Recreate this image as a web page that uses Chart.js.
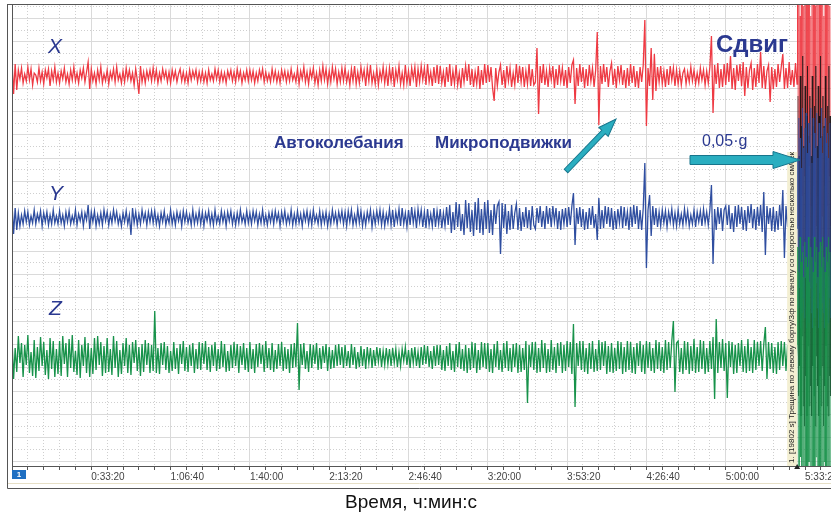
<!DOCTYPE html>
<html>
<head>
<meta charset="utf-8">
<script src="https://cdn.jsdelivr.net/npm/chart.js@4.4.0/dist/chart.umd.min.js"></script>
<style>
  html, body { margin: 0; padding: 0; background: #fff; }
</style>
</head>
<body>
<canvas id="chart" width="831" height="518"></canvas>
<script>
// Каналы акселерометра, отсчёты каждые 40 с (отклонения от нулевой линии канала)
const canalX = [
    15, -18, 12, -14, 6, -3, 8, -7, 2, -5, 9, -4, 7, -9, 3, 1, -6, 8, -5, 4, -8, 6, -2, 7, -10, 5, -4, 9, -6, 3,
    -7, 5, -3, 8, -6, 2, -8, 6, -4, 9, -5, 3, -7, 6, -2, 8, -6, 4, 14, -13, 7, -5, 3, -8, 6, -4, 9, -7, 2, -5,
    6, -8, 4, -3, 7, -6, 9, -4, 2, -7, 5, -6, 8, -3, 6, -5, 3, -9, 7, -4, -18, 10, -6, 4, -7, 5, -3, 6, -5, 8,
    -4, 6, -7, 3, -5, 7, -2, 5, -6, 4, -7, 6, -3, 5, -6, 2, 7, -5, 4, -6, 3, -7, 6, -4, 5, -2, 6, -6, 4, -5,
    5, -6, 3, -7, 6, -4, 2, -5, 7, -3, 6, -6, 4, -5, 3, -7, 5, -2, 6, -5, 4, -6, 7, -3, 5, -7, 3, -4, 6, -5,
    6, -4, 5, -7, 3, -5, 6, -2, 7, -6, 4, -5, 2, -6, 7, -4, 5, -6, 3, -7, 6, -3, 5, -6, 4, -5, 7, -4, 2, -6,
    7, -8, 5, -3, 9, -6, 4, -8, 6, -2, 8, -7, 3, -9, 6, -5, 10, -4, 7, -8, 5, -6, 9, -3, 7, -8, 4, -6, 8, -5,
    8, -6, 3, -9, 7, -5, 10, -8, 4, -7, 9, -3, 6, -10, 8, -5, 11, -7, 3, -8, 7, -9, 5, -4, 9, -7, 6, -10, 8, -5,
    9, -11, 6, -4, 10, -8, 3, -9, 11, -7, 5, -10, 8, -3, 9, -11, 7, -6, 10, -4, 8, -9, 12, -6, 4, -10, 9, -7, 11, -8,
    10, -7, 4, -11, 9, -6, 12, -10, 5, -8, 11, -9, 3, -12, 8, -6, 10, -5, 12, -9, 7, -11, 4, -8, 10, -13, 6, -9, 12, -7,
    11, -6, 9, -12, -25, 8, -10, 4, 11, -9, 6, -12, 10, -5, 8, -11, 3, -9, 12, -7, 10, -6, 9, -11, 5, -8, 12, -10, 7, -9,
    -6, 28, -38, 10, -7, 12, -9, 5, -11, 8, -4, 10, -12, 7, -9, 11, -5, 8, -10, 6, -12, 9, -7, 11, 16, -28, 8, -10, 12, -6,
    9, -12, 7, -10, 11, -5, 8, -11, 6, 44, -49, 10, -8, 12, -6, 9, -11, 5, 13, -9, 7, -12, 10, -4, 11, -9, 6, -12, 8, -10,
    12, -7, 10, -11, 5, -12, 9, -6, 11, 56, -50, 8, -10, 28, -24, 22, -15, 9, -6, 10, -8, 5, -11, 7, -9, 10, -4, 8, -10, 6,
    -8, 5, -9, 3, 7, -8, 4, -6, 9, -5, 6, -8, 3, -7, 8, -4, 6, -9, 5, -7, 9, 40, -37, 11, -8, 13, -12, 7, -11, 12,
    -9, 13, -6, 20, -13, 8, -14, 11, -5, 12, -10, 14, -20, 9, -12, 6, 13, -14, 8, -11, 12, -7, 24, -12, 10, -13, 5, 11, -26, 9,
    -13, 7, -11, 12, -6, 9, 22, -13, 8, -12, 14, -9, 6, -11, 13, -8
];
const canalY = [
    15, -16, 10, -12, 5, -8, 3, -6, 7, -4, 6, -7, 2, -5, 8, -6, 4, -3, 7, -8, 5, -4, 6, -7, 3, -6, 8, -5, 2, -6,
    7, -5, 3, -8, 6, -4, 7, -6, 2, -5, 8, -7, 4, -3, 6, -8, 5, -2, 13, -11, 6, -4, 7, -8, 3, -6, 5, -7, 8, -3,
    6, -7, 4, -5, 8, -3, 6, -6, 2, -8, 5, -4, 7, -6, 3, -17, 10, -5, 6, -7, 4, -6, 8, -3, 5, -7, 6, -4, 7, -5,
    7, -6, 3, -8, 5, -4, 7, -7, 2, -5, 8, -6, 4, -7, 6, -3, 5, -8, 7, -4, 6, -5, 3, -7, 8, -6, 4, -5, 7, -6,
    6, -8, 5, -3, 7, -6, 4, -7, 8, -5, 2, -6, 7, -4, 5, -8, 6, -3, 7, -6, 4, -7, 5, -5, 8, -4, 3, -6, 7, -5,
    5, -6, 7, -3, 6, -7, 4, -5, 8, -6, 3, -7, 5, -4, 6, -6, 7, -3, 5, -8, 6, -4, 7, -6, 3, -5, 8, -7, 4, -6,
    7, -5, 4, -8, 6, -3, 7, -6, 5, -7, 8, -4, 3, -6, 7, -7, 5, -5, 6, -8, 4, -6, 8, -4, 5, -7, 6, -3, 7, -6,
    6, -8, 7, -4, 8, -7, 3, -6, 9, -5, 7, -8, 4, -7, 6, -3, 8, -9, 5, -6, 7, -4, 8, -7, 6, -8, 4, -5, 9, -7,
    8, -9, 6, -4, 9, -8, 10, -6, 5, -9, 8, -7, 11, -5, 7, -10, 9, -4, 8, -9, 6, -10, 9, -7, 4, -8, 10, -9, 7, -6,
    9, -10, 5, -8, 11, -7, 13, -15, 6, -12, 16, -9, 14, -13, 4, -17, 18, -10, 15, -14, 8, -18, 16, -12, 20, -15, 9, -17, 16, -11,
    18, -15, 8, -17, 14, -6, 12, 16, -36, 15, -10, 14, -16, 7, -12, 13, -11, 5, 14, -12, 10, -13, 6, -9, 11, -10, 8, -12, 12, -7,
    -11, 10, -5, 12, -9, 7, -11, 12, -6, 10, -9, 12, -4, 10, -11, 7, -12, 9, -6, 10, -9, 11, -7, 12, 25, -27, 10, -6, 11, -9,
    9, -12, 6, -11, 10, -7, 12, -10, 4, -22, 20, -11, 8, -10, 12, -6, 11, -9, 10, -12, 7, -11, 9, -5, 12, -10, 11, -8, 6, -12,
    11, -9, 13, -6, 12, -11, 8, -12, 10, 55, -50, 8, 23, -18, 12, -7, 10, -9, 6, -8, 8, -5, 7, -9, 6, -4, 9, -7, 5, -8,
    8, -6, 4, -7, 9, -5, 7, -8, 3, -6, 8, -9, 6, -4, 7, -8, 9, -5, 6, -7, 8, 33, -46, 9, -12, 11, -6, 10, -13, 8,
    12, -7, 13, -11, 5, -14, 12, -9, 13, -6, 11, -12, 8, -13, 12, -5, 14, -10, 9, -12, 11, -8, 13, -14, 26, -37, 12, -6, 10, -13,
    11, -14, 7, -12, 13, -8, 28, -40, 12, -9, 13, -12, 6, -11, 14, -10
];
const canalZ = [
    18, -22, 9, -15, 21, -6, 14, -20, 12, -8, 22, -16, 5, -19, 17, -21, 10, -14, 20, -9, 15, -18, 7, -22, 19, -12, 16, -20, 8, -17,
    16, -19, 21, -7, 14, -20, 18, -11, 22, -15, 6, -18, 17, -21, 12, -9, 20, -16, 14, -20, 9, -17, 19, -13, 21, -8, 15, -19, 11, -16,
    19, -15, 8, -18, 21, -11, 16, -20, 7, -17, 14, -9, 19, -16, 12, -18, 15, -6, 17, -14, 10, -19, 13, -15, 17, -8, 14, -16, 12, -14,
    46, -16, 9, -17, 14, -8, 15, -13, 11, -16, 6, -14, 15, -12, 9, -17, 13, -7, 16, -14, 10, -15, 12, -9, 14, -16, 8, -12, 15, -13,
    14, -7, 16, -13, 10, -15, 12, -9, 15, -14, 8, -12, 16, -10, 13, -15, 6, -14, 12, -11, 15, -9, 13, -16, 11, -8, 14, -13, 9, -15,
    15, -12, 8, -16, 13, -10, 14, -7, 12, -15, 16, -11, 9, -13, 14, -15, 7, -12, 13, -9, 15, -14, 10, -12, 8, -16, 13, -11, 14, -10,
    34, -33, 13, -8, 14, -12, 6, -15, 13, -11, 12, -7, 14, -13, 9, -12, 11, -6, 13, -14, 10, -12, 7, -11, 12, -9, 13, -8, 10, -11,
    12, -9, 6, -11, 13, -8, 10, -12, 5, -10, 11, -9, 8, -12, 10, -6, 9, -11, 7, -9, 10, -5, 9, -10, 6, -8, 9, -7, 8, -9,
    9, -6, 8, -10, 5, -9, 8, -4, 10, -8, 7, -11, 9, -6, 10, -9, 5, -11, 10, -8, 12, -7, 11, -10, 6, -12, 11, -9, 12, -8,
    12, -13, 7, -14, 11, -9, 14, -13, 6, -15, 13, -10, 15, -12, 8, -14, 12, -16, 9, -13, 15, -11, 14, -16, 7, -13, 15, -10, 14, -12,
    14, -15, 8, -16, 13, -10, 16, -13, 7, -15, 14, -11, 16, -14, 9, -15, 13, -10, 14, -16, 12, -15, 9, -13, 16, -46, 12, -10, 15, -13,
    15, -16, 9, -15, 17, -11, 14, -16, 8, -15, 17, -13, 10, -16, 14, -9, 15, -16, 12, -14, 16, -10, 15, -17, 33, -50, 14, -9, 16, -13,
    16, -15, 9, -17, 14, -12, 16, -15, 8, -14, 17, -13, 15, -9, 16, -17, 11, -15, 14, -16, 9, -14, 16, -12, 15, -17, 10, -15, 16, -13,
    15, -16, 10, -17, 14, -9, 16, -15, 12, -17, 16, -11, 15, -14, 9, -16, 17, -12, 15, -14, 10, -16, 17, -13, 15, -11, 16, 36, -35, 14,
    16, -15, 9, -17, 16, -13, 15, -17, 11, -14, 18, -16, 10, -15, 17, -12, 16, -17, 9, -15, 16, -12, 20, -42, 38, -16, 15, -11, 18, -14,
    14, -41, 16, -10, 15, -17, 12, -16, 14, -9, 17, -15, 11, -16, 18, -14, 10, -16, 17, -13, 15, -9, 16, -14, 13, 30, -22, 15, -12, 14,
    -16, 10, -17, 15, -13, 16, -9, 15, -14, 12, -16, 15, -11, 14, -15, 13
];

// Сдвиг (после 19802 с), отсчёты каждые 15 с
const sdvigX = [90, -150, 150, -90, 60, -200, 130, -120, 100, -170, 70, -100, 140, -230, 110, -140, 80, -180, 120, -90,
    95, -210, 60, -130, 130, -160, 100, -110, 150, -250, 70, -150, 120, -120, 90, -190, 110, -100, 140, -170,
    80, -140, 100, -220, 60, -110, 130, -160, 110, -130, 90, -200, 120, -100, 70, -150];
const sdvigY = [60, -90, 100, -70, 80, -110, 50, -95, 110, -80, 70, -100, 90, -60, 105, -110, 65, -85, 95, -105,
    75, -70, 110, -95, 55, -110, 100, -80, 85, -100, 70, -65, 105, -90, 60, -110, 95, -75, 80, -100,
    110, -85, 65, -95, 90, -110, 100, -70, 75, -90, 85, -105, 60, -80, 95, -100];
const sdvigZ = [110, -120, 85, -130, 120, -100, 95, -125, 105, -115, 80, -130, 115, -110, 100, -120, 90, -130, 120, -105,
    75, -125, 110, -115, 100, -130, 85, -110, 120, -120, 95, -100, 110, -130, 80, -115, 105, -125, 115, -110,
    90, -130, 120, -120, 100, -105, 85, -125, 110, -130, 95, -115, 120, -110, 105, -125];
const sdvigK = [120, -180, 60, -150, 140, -200, 90, -120, 160, -190, 70, -210, 130, -160, 100, -200, 150, -130, 80, -190,
    120, -170, 60, -200, 140, -150, 90, -180, 110, -210, 150, -140, 70, -170, 130, -200, 100, -160, 160, -190,
    80, -150, 120, -210, 90, -170, 140, -130, 60, -190, 110, -200, 150, -160, 100, -180];

const shagOtscheta = 40;
const nachaloSdviga = 19815;
const shagSdviga = 15;
const momentSobytiya = 19802;
const tMax = 20655;
const shagSetkiX = 400, glavnyiShagX = 2000;
const shagSetkiY = 11.65, nachaloSetkiY = 4.95;

// Нулевые линии каналов на общей оси
const bazaX = 390, bazaY = 248, bazaZ = 109, bazaK = 250;

const colorX = '#ee3a43';
const colorY = '#2f4ea0';
const colorZ = '#17924a';
const colorTekst = '#2b3990';
const shrift = 'Arial, "Liberation Sans", sans-serif';

function fmtVremya(s) {
    const h = Math.floor(s / 3600);
    const m = Math.floor((s % 3600) / 60);
    const sec = Math.round(s % 60);
    return h + ':' + String(m).padStart(2, '0') + ':' + String(sec).padStart(2, '0');
}

function seriya(vals, burst, baza) {
    const pts = vals.map((v, i) => ({ x: i * shagOtscheta, y: baza + v }));
    burst.forEach((v, i) => pts.push({ x: nachaloSdviga + i * shagSdviga, y: baza + v }));
    return pts;
}

function tikiX(shag) {
    return scale => {
        const t = [];
        for (let v = 0; v <= tMax; v += shag) t.push({ value: v });
        scale.ticks = t;
    };
}

function tikiY(shag) {
    return scale => {
        const t = [];
        for (let v = nachaloSetkiY; v < 461; v += shag) t.push({ value: v });
        scale.ticks = t;
    };
}

function strelka(ctx, x1, y1, x2, y2, shaft, headW, headL) {
    const ang = Math.atan2(y2 - y1, x2 - x1);
    const len = Math.hypot(x2 - x1, y2 - y1);
    ctx.save();
    ctx.translate(x1, y1);
    ctx.rotate(ang);
    ctx.beginPath();
    ctx.moveTo(0, -shaft / 2);
    ctx.lineTo(len - headL, -shaft / 2);
    ctx.lineTo(len - headL, -headW / 2);
    ctx.lineTo(len, 0);
    ctx.lineTo(len - headL, headW / 2);
    ctx.lineTo(len - headL, shaft / 2);
    ctx.lineTo(0, shaft / 2);
    ctx.closePath();
    ctx.fillStyle = '#2aaec0';
    ctx.fill();
    ctx.lineWidth = 1;
    ctx.strokeStyle = '#17758c';
    ctx.stroke();
    ctx.restore();
}

// Рамка и подписи поверх графика
const ramkaPlugin = {
    id: 'ramka',
    beforeDraw(chart) {
        const ctx = chart.ctx;
        ctx.save();
        ctx.fillStyle = '#fff';
        ctx.fillRect(0, 0, chart.width, chart.height);
        ctx.restore();
    },
    afterDraw(chart) {
        const ctx = chart.ctx;
        const a = chart.chartArea;
        const xs = chart.scales.x;
        ctx.save();
        // рамка окна
        ctx.strokeStyle = '#555';
        ctx.lineWidth = 1;
        ctx.beginPath();
        ctx.moveTo(7.5, 4); ctx.lineTo(7.5, 488.5); ctx.lineTo(chart.width, 488.5);
        ctx.moveTo(7.5, 4.5); ctx.lineTo(chart.width, 4.5);
        ctx.moveTo(a.left + 0.5, a.top); ctx.lineTo(a.left + 0.5, a.bottom);
        ctx.moveTo(a.left, a.bottom + 0.5); ctx.lineTo(chart.width, a.bottom + 0.5);
        ctx.stroke();
        ctx.strokeStyle = '#e6dfc6';
        ctx.beginPath();
        ctx.moveTo(8, 483.5); ctx.lineTo(chart.width, 483.5);
        ctx.stroke();

        // номер окна
        ctx.fillStyle = '#1f6fc2';
        ctx.fillRect(12, 470, 14, 9);
        ctx.fillStyle = '#fff';
        ctx.font = 'bold 8px ' + shrift;
        ctx.textAlign = 'center';
        ctx.textBaseline = 'middle';
        ctx.fillText('1', 19, 475);

        // метка события
        const xs0 = xs.getPixelForValue(momentSobytiya);
        ctx.fillStyle = '#f3efd2';
        ctx.fillRect(xs0 - 10, 152, 10, a.bottom - 152);
        ctx.save();
        ctx.translate(xs0 - 5, a.bottom - 3);
        ctx.rotate(-Math.PI / 2);
        ctx.fillStyle = '#222';
        ctx.font = '8px ' + shrift;
        ctx.textAlign = 'left';
        ctx.textBaseline = 'middle';
        ctx.fillText('1. [19802 s] Трещина по левому борту/Зф по каналу со скоростью несколько см/сек', 0, 0);
        ctx.restore();
        ctx.fillStyle = '#222';
        ctx.beginPath();
        ctx.moveTo(xs0 - 3, a.bottom + 3); ctx.lineTo(xs0 + 3, a.bottom + 3); ctx.lineTo(xs0, a.bottom - 2);
        ctx.closePath();
        ctx.fill();

        // подписи каналов и участков
        ctx.fillStyle = colorTekst;
        ctx.textAlign = 'left';
        ctx.textBaseline = 'alphabetic';
        ctx.font = 'italic 21px ' + shrift;
        ctx.fillText('X', 48, 53);
        ctx.fillText('Y', 49, 200);
        ctx.fillText('Z', 49, 315);
        ctx.font = 'bold 17px ' + shrift;
        ctx.fillText('Автоколебания', 274, 148);
        ctx.fillText('Микроподвижки', 435, 148);
        ctx.font = 'bold 24px ' + shrift;
        ctx.fillText('Сдвиг', 716, 52);
        ctx.font = '16px ' + shrift;
        ctx.fillText('0,05·g', 702, 146);

        strelka(ctx, 566, 171, 616, 119, 5, 13, 18);
        strelka(ctx, 690, 160, 800, 160, 9, 17, 27);

        // подпись оси времени
        ctx.fillStyle = '#111';
        ctx.font = '19px ' + shrift;
        ctx.textAlign = 'center';
        ctx.fillText('Время, ч:мин:с', 411, 508);
        ctx.restore();
    }
};

// на участке сдвига линии тоньше, чтобы каналы просвечивали друг через друга
function liniya(label, data, color, w) {
    return {
        label: label,
        data: data,
        borderColor: color,
        borderWidth: w,
        pointRadius: 0,
        tension: 0,
        fill: false,
        segment: {
            borderWidth: ctx => ctx.p0.parsed.x >= momentSobytiya ? 0.6 : undefined
        }
    };
}

const setkaOsi = {
    display: true,
    ticks: { display: false },
    border: { display: false },
    afterFit: scale => { scale.height = 0; scale.width = 0; }
};

// первый набор рисуется поверх остальных
new Chart(document.getElementById('chart'), {
    type: 'line',
    data: {
        datasets: [
            liniya('Z', seriya(canalZ, sdvigZ, bazaZ), colorZ, 1.3),
            liniya('Y', seriya(canalY, sdvigY, bazaY), colorY, 1.3),
            liniya('K', sdvigK.map((v, i) => ({ x: nachaloSdviga + 7 + i * shagSdviga, y: bazaK + v })), '#111', 1),
            liniya('X', seriya(canalX, sdvigX, bazaX), colorX, 1.3)
        ]
    },
    options: {
        responsive: false,
        animation: false,
        events: [],
        layout: { padding: { left: 12, right: 0, top: 5, bottom: 34 } },
        plugins: {
            legend: { display: false },
            tooltip: { enabled: false }
        },
        scales: {
            x: {
                type: 'linear',
                min: 0,
                max: tMax,
                afterBuildTicks: tikiX(shagSetkiX),
                grid: { color: '#cfcfcf', tickColor: '#555', tickLength: 4 },
                border: { display: false, dash: [1, 2] },
                ticks: {
                    autoSkip: false,
                    maxRotation: 0,
                    align: 'start',
                    padding: 1,
                    color: '#444',
                    font: { family: shrift, size: 10 },
                    callback: v => (v > 0 && v % glavnyiShagX === 0) ? fmtVremya(v) : ''
                }
            },
            x2: Object.assign({}, setkaOsi, {
                type: 'linear', position: 'bottom', min: 0, max: tMax,
                afterBuildTicks: tikiX(glavnyiShagX),
                grid: { color: '#dadada', drawTicks: false }
            }),
            y: {
                min: 0,
                max: 461,
                afterBuildTicks: tikiY(shagSetkiY),
                afterFit: scale => { scale.width = 0; },
                grid: { color: '#cfcfcf', drawTicks: false },
                border: { display: false, dash: [1, 2] },
                ticks: { display: false }
            },
            y2: Object.assign({}, setkaOsi, {
                position: 'left', min: 0, max: 461,
                afterBuildTicks: tikiY(shagSetkiY * 2),
                grid: { color: '#dadada', drawTicks: false }
            })
        }
    },
    plugins: [ramkaPlugin]
});
</script>
</body>
</html>
